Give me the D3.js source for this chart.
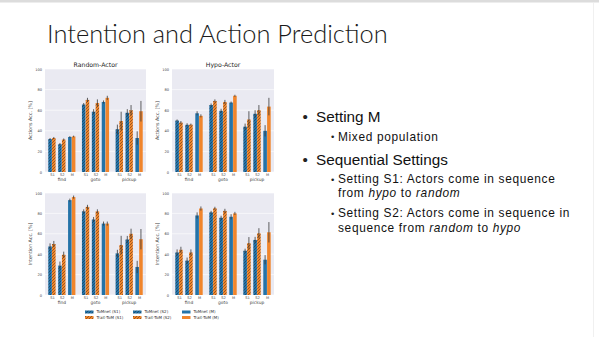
<!DOCTYPE html>
<html><head><meta charset="utf-8">
<script src="https://cdn.jsdelivr.net/npm/d3@7"></script>
<style>html,body{margin:0;padding:0;background:#fff;}svg{display:block;}</style>
</head><body>
<svg id="c" width="599" height="337"></svg>
<script>
// ---------- data ----------
const groups = ["find", "goto", "pickup"];
const settings = ["S1", "S2", "M"];
const yTicks = [0, 20, 40, 60, 80, 100];
const panelTitles = ["Random-Actor", "Hypo-Actor"];
const rowLabels = ["Actions Acc. [%]", "Intention Acc. [%]"];
const legendLabelsTomnet = ["ToMnet (S1)", "ToMnet (S2)", "ToMnet (M)"];
const legendLabelsTrait = ["Trait-ToM (S1)", "Trait-ToM (S2)", "Trait-ToM (M)"];

// order: find S1,S2,M, goto S1,S2,M, pickup S1,S2,M
const randomActionTomnet    = [32, 27, 34,   65.5, 58.5, 68,   41.5, 57.5, 33];
const randomActionTomnetErr = [1, 1.2, 0.8,  1.5, 2.5, 1.5,    4.5, 3.5, 6.5];
const randomActionTrait     = [33, 31.5, 34.5, 70, 67, 72,     49.5, 60, 59];
const randomActionTraitErr  = [1, 1, 0.8,    2, 3.5, 2,        9, 5, 10];

const hypoActionTomnet      = [50, 45.8, 57,  65, 59.4, 67.4,  44, 56.5, 40];
const hypoActionTomnetErr   = [1, 1.5, 2,     1.5, 2, 1,       3, 3.5, 5.5];
const hypoActionTrait       = [48, 46, 54.5,  69, 68, 74,      51, 60, 63.5];
const hypoActionTraitErr    = [1.5, 1, 1.5,   1.5, 2, 1,       8, 5, 8.5];

const randomIntentTomnet    = [47.6, 28.8, 93, 82, 74, 70,     40.8, 54.4, 27.5];
const randomIntentTomnetErr = [3, 4, 1.5,     2, 2.5, 2,       3.5, 3.5, 6];
const randomIntentTrait     = [50, 39.5, 96,  86.4, 82, 70,    49, 60, 54.7];
const randomIntentTraitErr  = [3, 3, 1.5,     2, 2, 2,         9, 5, 10];

const hypoIntentTomnet      = [41.7, 33.7, 78, 81, 75.7, 76.7, 43.4, 54, 34.6];
const hypoIntentTomnetErr   = [3, 3, 3,       1.5, 2, 2.5,     2, 3, 4.5];
const hypoIntentTrait       = [44.3, 41.7, 84.8, 85, 82.5, 80, 50.8, 60.5, 61.5];
const hypoIntentTraitErr    = [3, 3, 2,       1.5, 2, 1.5,     6, 5, 10];

// ---------- layout ----------
const svg = d3.select("#c");
const W = 599, H = 337;
const BLUE = "#2473a8", ORANGE = "#f0852c";
const BLUE_H = "#163e5c", ORANGE_H = "#7a4212";
const BG = "#eaeaf2";

svg.append("rect").attr("width", W).attr("height", H).attr("fill", "#fff");
// slide frame hints
svg.append("rect").attr("x", 0).attr("y", 0).attr("width", W).attr("height", 2.5).attr("fill", "#dcdcdc");
svg.append("rect").attr("x", 593).attr("y", 3).attr("width", 1).attr("height", H).attr("fill", "#f0f0f0");

const defs = svg.append("defs");
function hatch(id, base, line) {
  const p = defs.append("pattern").attr("id", id).attr("patternUnits", "userSpaceOnUse")
    .attr("width", 3).attr("height", 3);
  p.append("rect").attr("width", 3).attr("height", 3).attr("fill", base);
  p.append("path").attr("d", "M-0.75,0.75 L0.75,-0.75 M0,3 L3,0 M2.25,3.75 L3.75,2.25")
    .attr("stroke", line).attr("stroke-width", 0.7);
}
hatch("hb", BLUE, BLUE_H);
hatch("ho", ORANGE, ORANGE_H);

const colX = [[45, 146], [172, 274]];
const rowY = [[69, 172], [193, 295]];

const panels = [
  {r: 0, c: 0, t: randomActionTomnet, te: randomActionTomnetErr, o: randomActionTrait, oe: randomActionTraitErr},
  {r: 0, c: 1, t: hypoActionTomnet, te: hypoActionTomnetErr, o: hypoActionTrait, oe: hypoActionTraitErr},
  {r: 1, c: 0, t: randomIntentTomnet, te: randomIntentTomnetErr, o: randomIntentTrait, oe: randomIntentTraitErr},
  {r: 1, c: 1, t: hypoIntentTomnet, te: hypoIntentTomnetErr, o: hypoIntentTrait, oe: hypoIntentTraitErr},
];

const GAP = 3.4;
const pos = [];
groups.forEach((g, gi) => settings.forEach((s, si) => pos.push(gi * GAP + si)));
const BW = 0.36, OFF = 0.19;

panels.forEach(p => {
  const [x0, x1] = colX[p.c], [y0, y1] = rowY[p.r];
  const x = d3.scaleLinear().domain([-0.7, 2 * GAP + 2 + 0.7]).range([x0, x1]);
  const y = d3.scaleLinear().domain([0, 100]).range([y1, y0]);
  const g = svg.append("g");
  g.append("rect").attr("x", x0).attr("y", y0).attr("width", x1 - x0).attr("height", y1 - y0).attr("fill", BG);
  // grid
  g.selectAll("line.grid").data(yTicks).join("line")
    .attr("x1", x0).attr("x2", x1).attr("y1", d => y(d)).attr("y2", d => y(d))
    .attr("stroke", "#fff").attr("stroke-width", 0.6);
  // y axis
  const ya = g.append("g").attr("transform", `translate(${x0},0)`)
    .call(d3.axisLeft(y).tickValues(yTicks).tickSize(0).tickPadding(3));
  ya.select(".domain").remove();
  ya.selectAll("text").attr("font-family", "DejaVu Sans").attr("font-size", 3.6).attr("fill", "#444");
  // bars
  const idx = d3.range(pos.length);
  const fillFor = (i, base, hid) => settings[i % 3] === "M" ? base : `url(#${hid})`;
  g.selectAll("rect.bt").data(idx).join("rect")
    .attr("x", i => x(pos[i] - OFF - BW / 2)).attr("width", i => x(BW) - x(0))
    .attr("y", i => y(p.t[i])).attr("height", i => y(0) - y(p.t[i]))
    .attr("fill", i => fillFor(i, BLUE, "hb"));
  g.selectAll("rect.bo").data(idx).join("rect")
    .attr("x", i => x(pos[i] + OFF - BW / 2)).attr("width", i => x(BW) - x(0))
    .attr("y", i => y(p.o[i])).attr("height", i => y(0) - y(p.o[i]))
    .attr("fill", i => fillFor(i, ORANGE, "ho"));
  // error bars
  g.selectAll("line.et").data(idx).join("line")
    .attr("x1", i => x(pos[i] - OFF)).attr("x2", i => x(pos[i] - OFF))
    .attr("y1", i => y(p.t[i] - p.te[i])).attr("y2", i => y(p.t[i] + p.te[i]))
    .attr("stroke", "#3a3a3a").attr("stroke-width", 0.8);
  g.selectAll("line.eo").data(idx).join("line")
    .attr("x1", i => x(pos[i] + OFF)).attr("x2", i => x(pos[i] + OFF))
    .attr("y1", i => y(p.o[i] - p.oe[i])).attr("y2", i => y(p.o[i] + p.oe[i]))
    .attr("stroke", "#3a3a3a").attr("stroke-width", 0.8);
  // x axis
  const xa = g.append("g").attr("transform", `translate(0,${y1})`)
    .call(d3.axisBottom(x).tickValues(pos).tickFormat((d, i) => settings[i % 3]).tickSize(0).tickPadding(1.2));
  xa.select(".domain").remove();
  xa.selectAll("text").attr("font-family", "DejaVu Sans").attr("font-size", 3.6).attr("fill", "#444");
  g.selectAll("text.grp").data(groups).join("text")
    .attr("x", (d, gi) => x(gi * GAP + 1)).attr("y", y1 + 8.6)
    .attr("text-anchor", "middle").attr("font-family", "DejaVu Sans").attr("font-size", 4.4).attr("fill", "#444")
    .text(d => d);
  // y label
  g.append("text").attr("transform", `translate(${x0 - 13},${(y0 + y1) / 2}) rotate(-90)`)
    .attr("text-anchor", "middle").attr("font-family", "DejaVu Sans").attr("font-size", 4.8).attr("fill", "#444")
    .text(rowLabels[p.r]);
  if (p.r === 0) {
    g.append("text").attr("x", (x0 + x1) / 2).attr("y", y0 - 2.5).attr("text-anchor", "middle")
      .attr("font-family", "DejaVu Sans").attr("font-size", 6.2).attr("fill", "#222").text(panelTitles[p.c]);
  }
});

// legend
const legCols = [85, 133, 182];
const legRows = [312, 317.5];
[[legendLabelsTomnet, BLUE, "hb"], [legendLabelsTrait, ORANGE, "ho"]].forEach(([labels, base, hid], r) => {
  labels.forEach((lab, c) => {
    svg.append("rect").attr("x", legCols[c]).attr("y", legRows[r] - 1.5).attr("width", 8.5).attr("height", 3)
      .attr("fill", settings[c] === "M" ? base : `url(#${hid})`);
    svg.append("text").attr("x", legCols[c] + 11.5).attr("y", legRows[r] + 1.4)
      .attr("font-family", "DejaVu Sans").attr("font-size", 4).attr("fill", "#333").text(lab);
  });
});

// title and bullets
function fitText(sel, target) {
  const w = sel.node().getComputedTextLength();
  const fs = parseFloat(sel.attr("font-size"));
  return fs * target / w;
}
const title = svg.append("text").attr("x", 47).attr("y", 43).attr("font-family", "Lato")
  .attr("font-weight", 300).attr("font-size", 28).attr("fill", "#1a1a1a").text("Intention and Action Prediction");
title.attr("font-size", fitText(title, 341));

const FONT = "Liberation Sans";
const probe1 = svg.append("text").attr("font-family", FONT).attr("font-size", 16).text("Sequential Settings");
const fs1 = fitText(probe1, 132); probe1.remove();
const fs2 = 11.9;
const s2text = "Setting S2: Actors come in sequence in";
const probe2 = svg.append("text").attr("font-family", FONT).attr("font-size", fs2).text(s2text);
const ls2 = Math.max(0, (232 - probe2.node().getComputedTextLength()) / s2text.length); probe2.remove();

function bullet(level, yb) {
  if (level === 1) {
    svg.append("text").attr("x", 302.5).attr("y", yb).attr("font-family", FONT)
      .attr("font-size", fs1).attr("fill", "#222").text("•");
  } else {
    svg.append("text").attr("x", 331).attr("y", yb - 0.5).attr("font-family", FONT)
      .attr("font-size", 9.5).attr("fill", "#222").text("•");
  }
}
function line(level, yb, parts) {
  const t = svg.append("text").attr("x", level === 1 ? 316 : 338).attr("y", yb)
    .attr("font-family", FONT).attr("font-size", level === 1 ? fs1 : fs2).attr("fill", "#111")
    .attr("letter-spacing", level === 1 ? 0 : ls2);
  parts.forEach(([s, it]) => t.append("tspan").attr("font-style", it ? "italic" : "normal").text(s));
}
bullet(1, 121.7); line(1, 121.7, [["Setting M", false]]);
bullet(2, 140.7); line(2, 140.7, [["Mixed population", false]]);
bullet(1, 165); line(1, 165, [["Sequential Settings", false]]);
bullet(2, 183.3); line(2, 183.3, [["Setting S1: Actors come in sequence", false]]);
line(2, 196.7, [["from ", false], ["hypo", true], [" to ", false], ["random", true]]);
bullet(2, 217.3); line(2, 217.3, [["Setting S2: Actors come in sequence in", false]]);
line(2, 231.7, [["sequence from ", false], ["random", true], [" to ", false], ["hypo", true]]);
</script>
</body></html>
